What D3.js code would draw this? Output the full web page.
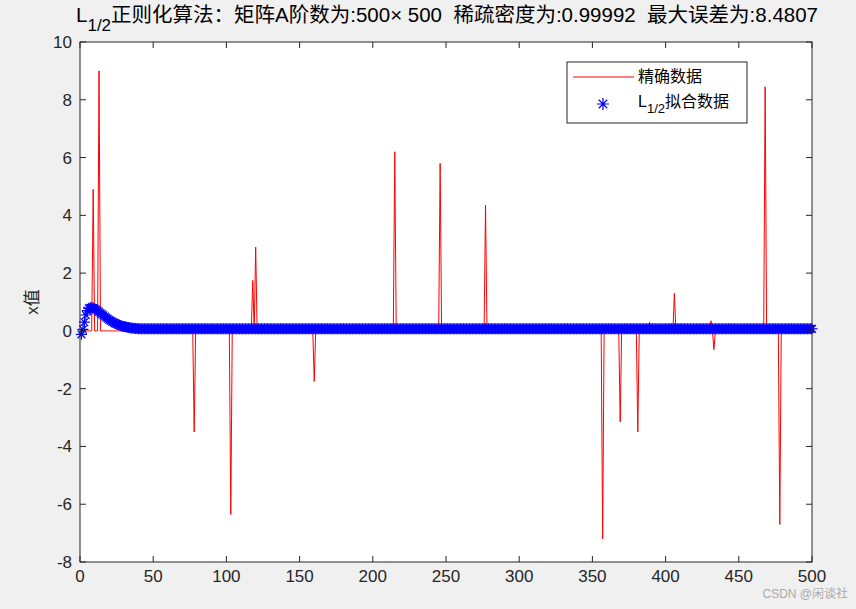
<!DOCTYPE html><html><head><meta charset="utf-8">
<script src="https://cdn.jsdelivr.net/npm/d3@7"></script>
<style>body{margin:0;background:#f0f0f0}text{font-family:"Liberation Sans","Noto Sans CJK SC",sans-serif;white-space:pre}</style></head><body>
<svg id="c" width="856" height="609"></svg>
<script>
const N = 500;
const spikeIdx = [9, 13, 78, 103, 118, 120, 160, 215, 246, 277, 357, 369, 381, 389, 406, 431, 433, 468, 478];
const spikeVal = [4.9, 9.0, -3.5, -6.35, 1.75, 2.9, -1.75, 6.2, 5.8, 4.35, -7.2, -3.15, -3.5, 0.3, 1.3, 0.35, -0.65, 8.45, -6.7];
const fitHead = [-0.12,0.05,0.3,0.55,0.7,0.78,0.8,0.8,0.79,0.77,0.74,0.7,0.66,0.62,0.58,0.54,0.5,0.46,0.42,0.38,0.35,0.32,0.29,0.26,0.24,0.22,0.2,0.18,0.16,0.15,0.14,0.13,0.12,0.11,0.1,0.095,0.09,0.085,0.08,0.075];
const fitTail = 0.07;
const xTicks = [0,50,100,150,200,250,300,350,400,450,500];
const yTicks = [-8,-6,-4,-2,0,2,4,6,8,10];

const exact = d3.range(1, N+1).map(i => { const k = spikeIdx.indexOf(i); return [i, k >= 0 ? spikeVal[k] : 0]; });
const fit = d3.range(1, N+1).map(i => [i, i <= fitHead.length ? fitHead[i-1] : fitTail]);

const L=80,R=812,T=42,B=562;
const svg=d3.select("#c");
const x=d3.scaleLinear().domain([0,500]).range([L,R]);
const y=d3.scaleLinear().domain([-8,10]).range([B,T]);
svg.append("rect").attr("x",L).attr("y",T).attr("width",R-L).attr("height",B-T).attr("fill","#fff");
const g=svg.append("g");
g.append("path").datum(exact).attr("fill","none").attr("stroke","#ff0000").attr("stroke-width",1)
 .attr("d",d3.line().x(d=>x(d[0])).y(d=>y(d[1])));
const star=(d,r=5.5)=>{const cx=x(d[0]),cy=y(d[1]),q=r*0.707;return `M${cx-r},${cy}L${cx+r},${cy}M${cx},${cy-r}L${cx},${cy+r}M${cx-q},${cy-q}L${cx+q},${cy+q}M${cx-q},${cy+q}L${cx+q},${cy-q}`;};
g.append("path").attr("fill","none").attr("stroke","#0000ff").attr("stroke-width",1.2).attr("d",fit.map(d=>star(d)).join(""));
const ax=svg.append("g").attr("stroke","#262626").attr("fill","none");
ax.append("rect").attr("x",L).attr("y",T).attr("width",R-L).attr("height",B-T);
xTicks.forEach(t=>{ax.append("line").attr("x1",x(t)).attr("x2",x(t)).attr("y1",B).attr("y2",B-6);ax.append("line").attr("x1",x(t)).attr("x2",x(t)).attr("y1",T).attr("y2",T+6);
 svg.append("text").attr("x",x(t)).attr("y",B+20).attr("text-anchor","middle").attr("font-size",17).attr("fill","#262626").text(t);});
yTicks.forEach(t=>{ax.append("line").attr("x1",L).attr("x2",L+6).attr("y1",y(t)).attr("y2",y(t));ax.append("line").attr("x1",R).attr("x2",R-6).attr("y1",y(t)).attr("y2",y(t));
 svg.append("text").attr("x",L-8).attr("y",y(t)+6).attr("text-anchor","end").attr("font-size",17).attr("fill","#262626").text(t);});
svg.append("text").attr("transform","translate(38,302) rotate(-90)").attr("text-anchor","middle").attr("font-size",17).attr("fill","#262626").text("x值");
const tt=svg.append("text").attr("x",447).attr("y",22).attr("text-anchor","middle").attr("font-size",20.5).attr("fill","#000");
tt.append("tspan").text("L");tt.append("tspan").attr("dy",9).attr("font-size",17).text("1/2");
tt.append("tspan").attr("dy",-9).text("正则化算法：矩阵A阶数为:500× 500  稀疏密度为:0.99992  最大误差为:8.4807");
const lg=svg.append("g");
lg.append("rect").attr("x",567).attr("y",62).attr("width",180).attr("height",61).attr("fill","#fff").attr("stroke","#262626");
lg.append("line").attr("x1",573).attr("x2",634).attr("y1",77).attr("y2",77).attr("stroke","#f00");
lg.append("text").attr("x",638).attr("y",82).attr("font-size",16).text("精确数据");
lg.append("path").attr("d",star([x.invert(603),y.invert(104)],6)).attr("stroke","#00f").attr("stroke-width",1.2).attr("fill","none");
const l2=lg.append("text").attr("x",638).attr("y",107).attr("font-size",16);
l2.append("tspan").text("L");l2.append("tspan").attr("dy",6).attr("font-size",13).text("1/2");l2.append("tspan").attr("dy",-6).text("拟合数据");
svg.append("text").attr("x",848).attr("y",598).attr("text-anchor","end").attr("font-size",12).attr("fill","#aaa").text("CSDN @闲谈社");
</script></body></html>
